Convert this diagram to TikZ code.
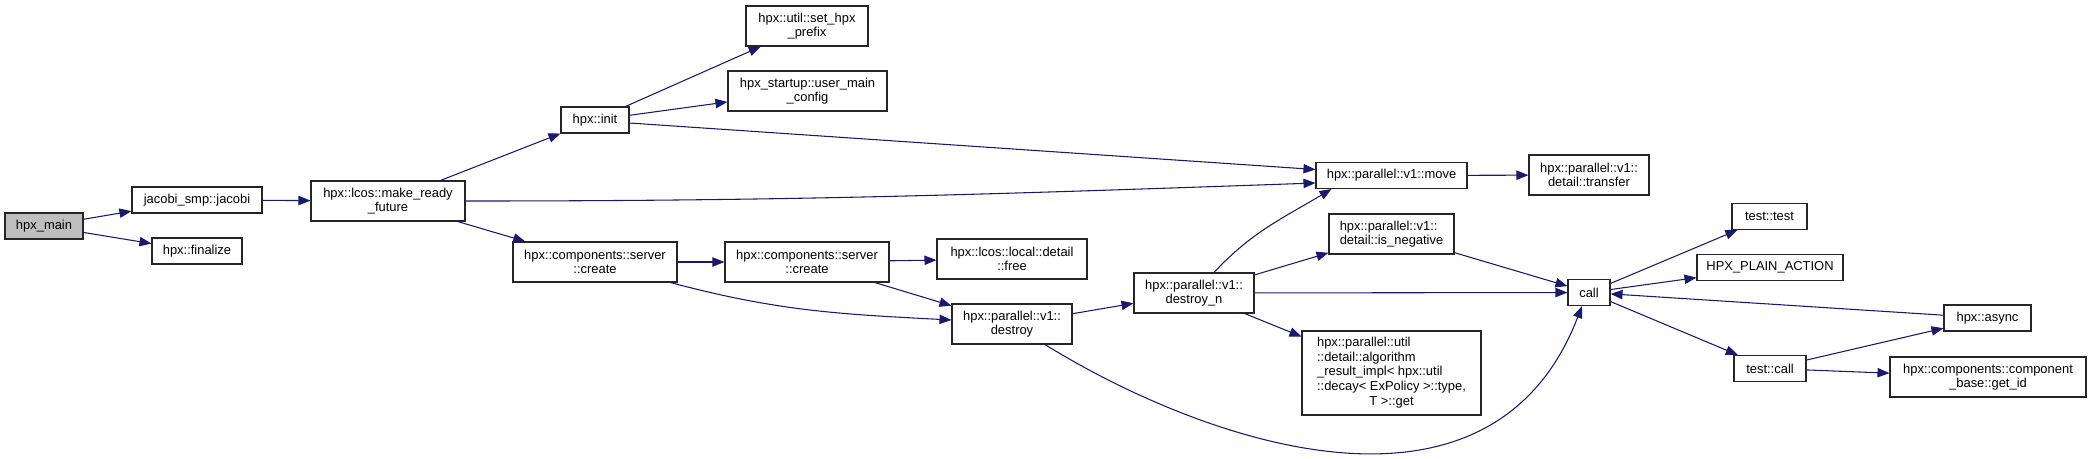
\documentclass[tikz,border=0pt]{standalone}
\usepackage{fontspec}
\setmainfont{Liberation Sans}
\usetikzlibrary{arrows.meta,calc}
\definecolor{dxedge}{HTML}{191970}
\definecolor{dxroot}{HTML}{BFBFBF}
\tikzset{
  fnbox/.style   = {draw=black!85, line width=0.8pt, rectangle, inner sep=0pt,
                    align=center, font=\fontsize{9.7}{11}\selectfont},
  fnone/.style   = {fnbox, minimum height=19.5pt},
  fntwo/.style   = {fnbox, minimum height=30pt},
  rootbox/.style = {fnone, fill=dxroot},
  calls/.style   = {-{Triangle[length=9pt,width=7pt]}, draw=dxedge, line width=0.8pt},
}
\begin{document}
\begin{tikzpicture}[x=0.75pt,y=0.75pt]
\useasboundingbox (0,0) rectangle (2091,-458);
% caller side
\node[rootbox, minimum width=58.5pt] (main) at (44,-226) {hpx\_main};
\node[fnone, minimum width=97.5pt] (jacobi) at (197,-200) {jacobi\_smp::jacobi};
\node[fnone, minimum width=67.5pt] (finalize) at (197,-251) {hpx::finalize};
\node[fntwo, minimum width=115.5pt] (mrf) at (388,-201) {hpx::lcos::make\_ready\\\_future};
% init branch
\node[fnone, minimum width=51pt] (init) at (595,-120) {hpx::init};
\node[fntwo, minimum width=91.5pt] (prefix) at (807,-26) {hpx::util::set\_hpx\\\_prefix};
\node[fntwo, minimum width=119.25pt] (umc) at (807.5,-91) {hpx\_startup::user\_main\\\_config};
% create branch
\node[fntwo, minimum width=123pt] (create1) at (595,-262) {hpx::components::server\\::create};
\node[fntwo, minimum width=123pt] (create2) at (807,-262) {hpx::components::server\\::create};
\node[fntwo, minimum width=112.5pt] (free) at (1012,-259) {hpx::lcos::local::detail\\::free};
\node[fntwo, minimum width=90pt] (destroy) at (1012,-324) {hpx::parallel::v1::\\destroy};
\node[fntwo, minimum width=90pt] (destroyn) at (1194,-293) {hpx::parallel::v1::\\destroy\_n};
% parallel algorithms
\node[fnone, minimum width=113.25pt] (move) at (1391.5,-175.5) {hpx::parallel::v1::move};
\node[fntwo, minimum width=90pt] (transfer) at (1589,-175) {hpx::parallel::v1::\\detail::transfer};
\node[fntwo, minimum width=93.75pt, align=left] (isneg) at (1391.5,-234) {hpx::parallel::v1::\\detail::is\_negative};
\node[fnbox, minimum width=134.25pt, minimum height=63pt] (algo) at (1391.5,-373)
  {\begin{tabular}{@{}l@{}}
   hpx::parallel::util\\
   ::detail::algorithm\\
   \_result\_impl< hpx::util\\
   ::decay< ExPolicy >::type,\\
   \multicolumn{1}{@{}c@{}}{T >::get}
   \end{tabular}};
% call and what it reaches
\node[fnone, minimum width=31.5pt] (call) at (1589,-292.5) {call};
\node[fnone, minimum width=56.25pt] (ttest) at (1769.5,-216.5) {test::test};
\node[fnone, minimum width=109.5pt] (plain) at (1770,-267.5) {HPX\_PLAIN\_ACTION};
\node[fnone, minimum width=65.25pt] (async) at (1987.5,-318) {hpx::async};
\node[fnone, minimum width=54pt] (tcall) at (1770,-368.5) {test::call};
\node[fntwo, minimum width=147pt] (getid) at (1988,-377) {hpx::components::component\\\_base::get\_id};
% edges
\draw[calls] (main) -- (jacobi);
\draw[calls] (main) -- (finalize);
\draw[calls] (jacobi) -- (mrf);
\draw[calls] (mrf) -- (init);
\draw[calls] (mrf.east) to[out=0,in=182] ($(move.west)+(0,-7.5)$);
\draw[calls] (mrf) -- (create1);
\draw[calls] (init) -- (prefix);
\draw[calls] (init) -- (umc);
\draw[calls] ($(init.east)+(0,-3)$) -- ($(move.west)+(0,6)$);
\draw[calls] (create1) -- (create2);
\draw[calls] ($(create1.south east)+(-7,0)$) to[out=-15,in=177] ($(destroy.west)+(0,4)$);
\draw[calls] (create2) -- (free);
\draw[calls] (create2) -- (destroy);
\draw[calls] (destroy) -- (destroyn);
\draw[calls] ($(destroy.south)+(33,0)$) .. controls +(155,-96) and +(-92,-239) .. ($(call.south)+(-7,0)$);
\draw[calls] ($(destroyn.north)+(20,0)$) to[out=47,in=211] ($(move.south west)+(16,0)$);
\draw[calls] (destroyn) -- (isneg);
\draw[calls] (destroyn) -- (call);
\draw[calls] (destroyn) -- (algo);
\draw[calls] (move) -- (transfer);
\draw[calls] (isneg) -- (call);
\draw[calls] (call) -- (ttest);
\draw[calls] (call) -- (plain);
\draw[calls] (call) -- (tcall);
\draw[calls] (async) -- (call);
\draw[calls] (tcall) -- (async);
\draw[calls] (tcall) -- (getid);
\end{tikzpicture}
\end{document}
